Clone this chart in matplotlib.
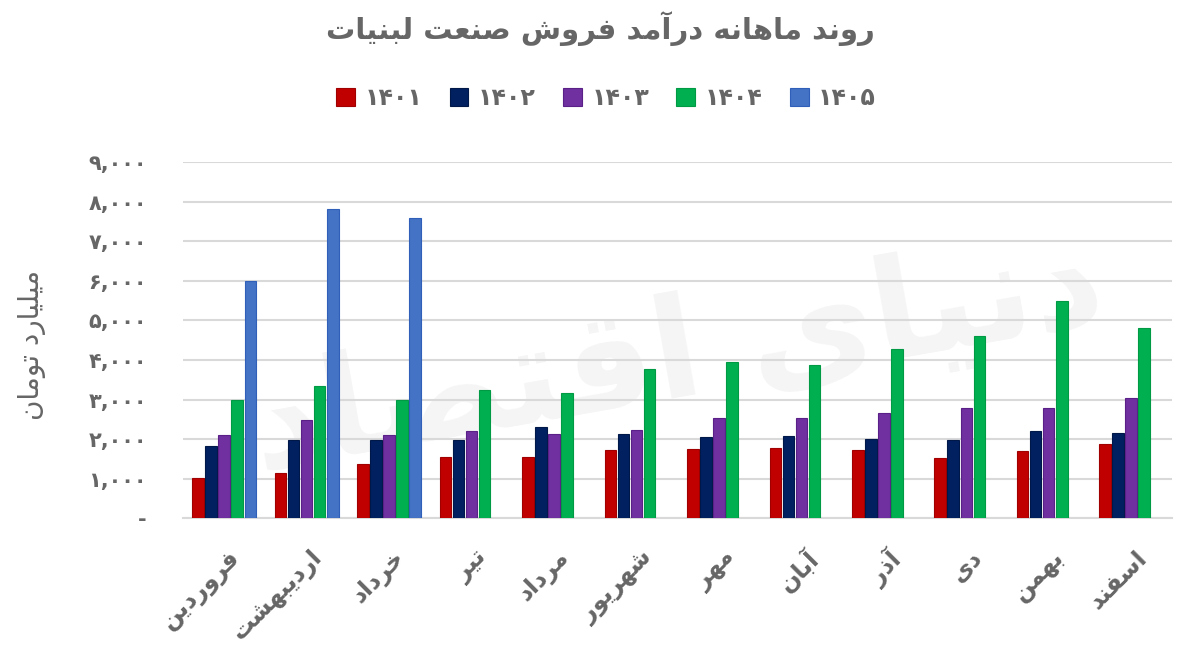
import numpy as np
import matplotlib
matplotlib.use('Agg')
import matplotlib.pyplot as plt

# Data (billion toman)
months = ['فروردین', 'اردیبهشت', 'خرداد', 'تیر', 'مرداد', 'شهریور',
          'مهر', 'آبان', 'آذر', 'دی', 'بهمن', 'اسفند']
years = ['1401', '1402', '1403', '1404', '1405']
v1401 = [1020, 1150, 1380, 1545, 1540, 1720, 1745, 1770, 1720, 1515, 1695, 1870]
v1402 = [1830, 1985, 1985, 1980, 2305, 2120, 2050, 2070, 1995, 1970, 2200, 2150]
v1403 = [2100, 2490, 2100, 2200, 2120, 2230, 2535, 2530, 2650, 2780, 2780, 3035]
v1404 = [3000, 3350, 3000, 3245, 3170, 3780, 3940, 3870, 4270, 4600, 5485, 4800]
v1405 = [6000, 7830, 7600] + [np.nan] * 9
yticks = [0, 1000, 2000, 3000, 4000, 5000, 6000, 7000, 8000, 9000]

title = 'روند ماهانه درآمد فروش صنعت لبنیات'
ylabel = 'میلیارد تومان'
watermark = 'دنیای اقتصاد'

colors = ['#C00000', '#002060', '#7030A0', '#00B050', '#4472C4']
edges = ['#A00000', '#001848', '#5A2088', '#009A44', '#2F5FB8']
grey = '#666666'

# Arabic letter shaping (isolated, final, initial, medial)
FORMS = {
    'ا': ('\uFE8D', '\uFE8E', None, None),
    'آ': ('\uFE81', '\uFE82', None, None),
    'ب': ('\uFE8F', '\uFE90', '\uFE91', '\uFE92'),
    'ت': ('\uFE95', '\uFE96', '\uFE97', '\uFE98'),
    'خ': ('\uFEA5', '\uFEA6', '\uFEA7', '\uFEA8'),
    'د': ('\uFEA9', '\uFEAA', None, None),
    'ذ': ('\uFEAB', '\uFEAC', None, None),
    'ر': ('\uFEAD', '\uFEAE', None, None),
    'س': ('\uFEB1', '\uFEB2', '\uFEB3', '\uFEB4'),
    'ش': ('\uFEB5', '\uFEB6', '\uFEB7', '\uFEB8'),
    'ص': ('\uFEB9', '\uFEBA', '\uFEBB', '\uFEBC'),
    'ع': ('\uFEC9', '\uFECA', '\uFECB', '\uFECC'),
    'ف': ('\uFED1', '\uFED2', '\uFED3', '\uFED4'),
    'ق': ('\uFED5', '\uFED6', '\uFED7', '\uFED8'),
    'ل': ('\uFEDD', '\uFEDE', '\uFEDF', '\uFEE0'),
    'م': ('\uFEE1', '\uFEE2', '\uFEE3', '\uFEE4'),
    'ن': ('\uFEE5', '\uFEE6', '\uFEE7', '\uFEE8'),
    'ه': ('\uFEE9', '\uFEEA', '\uFEEB', '\uFEEC'),
    'و': ('\uFEED', '\uFEEE', None, None),
    '\u06CC': ('\uFEEF', '\uFEF0', '\uFEF3', '\uFEF4'),
    '\u064A': ('\uFEEF', '\uFEF0', '\uFEF3', '\uFEF4'),
}


def fa(text):
    out = []
    for i, ch in enumerate(text):
        f = FORMS.get(ch)
        if f is None:
            out.append(ch)
            continue
        prev = text[i - 1] if i > 0 else ''
        nxt = text[i + 1] if i + 1 < len(text) else ''
        jp = prev in FORMS and FORMS[prev][2] is not None
        jn = f[2] is not None and nxt in FORMS
        if jp and jn:
            out.append(f[3])
        elif jp:
            out.append(f[1])
        elif jn:
            out.append(f[2])
        else:
            out.append(f[0])
    return ''.join(out)[::-1]


FA_DIGITS = str.maketrans('0123456789', '۰۱۲۳۴۵۶۷۸۹')


def fa_num(s):
    return s.translate(FA_DIGITS)


plt.rcParams['font.family'] = ['DejaVu Sans']

fig = plt.figure(figsize=(12, 6.61), dpi=100)
ax = fig.add_axes([0.1525, 0.2163, 0.8245, 0.5379])

# faint watermark behind the bars
ax.text(0.50, 0.45, fa(watermark), transform=ax.transAxes, fontsize=100,
        fontweight='bold', color='#000000', alpha=0.045, rotation=10,
        ha='center', va='center', zorder=0)

x = np.arange(len(months))
slot = 0.158
width = 0.14
series = [v1401, v1402, v1403, v1404, v1405]
for j, vals in enumerate(series):
    ax.bar(x + (j - 2) * slot, vals, width, color=colors[j], edgecolor=edges[j],
           linewidth=0.8, label=fa_num(years[j]), zorder=3)

ax.set_xlim(-0.5, len(months) - 0.5)
ax.set_ylim(0, 9000)
ax.set_yticks(yticks)
ax.set_yticklabels(['-'] + [fa_num(f'{v:,}') for v in yticks[1:]],
                   color=grey, fontsize=15, fontweight='bold')
ax.tick_params(axis='y', length=0, pad=26)
ax.yaxis.grid(True, color='#d9d9d9', linewidth=1.5, zorder=1)
ax.set_axisbelow(True)

ax.set_xticks(x + 0.04)
ax.set_xticklabels([fa(m) for m in months], rotation=45, ha='right',
                   va='top', rotation_mode='anchor', color=grey,
                   fontsize=17, fontweight='bold')
ax.tick_params(axis='x', length=0, pad=20)

for s in ['top', 'right', 'left']:
    ax.spines[s].set_visible(False)
ax.spines['bottom'].set_color('#d9d9d9')
ax.spines['bottom'].set_linewidth(1.5)

fig.text(0.5, 0.957, fa(title), ha='center', va='center', fontsize=21,
         fontweight='bold', color=grey)
fig.text(0.027, 0.478, fa(ylabel), ha='center', va='center', rotation=90,
         fontsize=20, color=grey)

fig.legend(loc='center', bbox_to_anchor=(0.505, 0.852), ncol=5, frameon=False,
           prop={'size': 17, 'weight': 'bold'}, handlelength=0.8,
           handleheight=0.8, columnspacing=1.15, handletextpad=0.4,
           labelcolor=grey)

fig.savefig('out.png', dpi=100)
